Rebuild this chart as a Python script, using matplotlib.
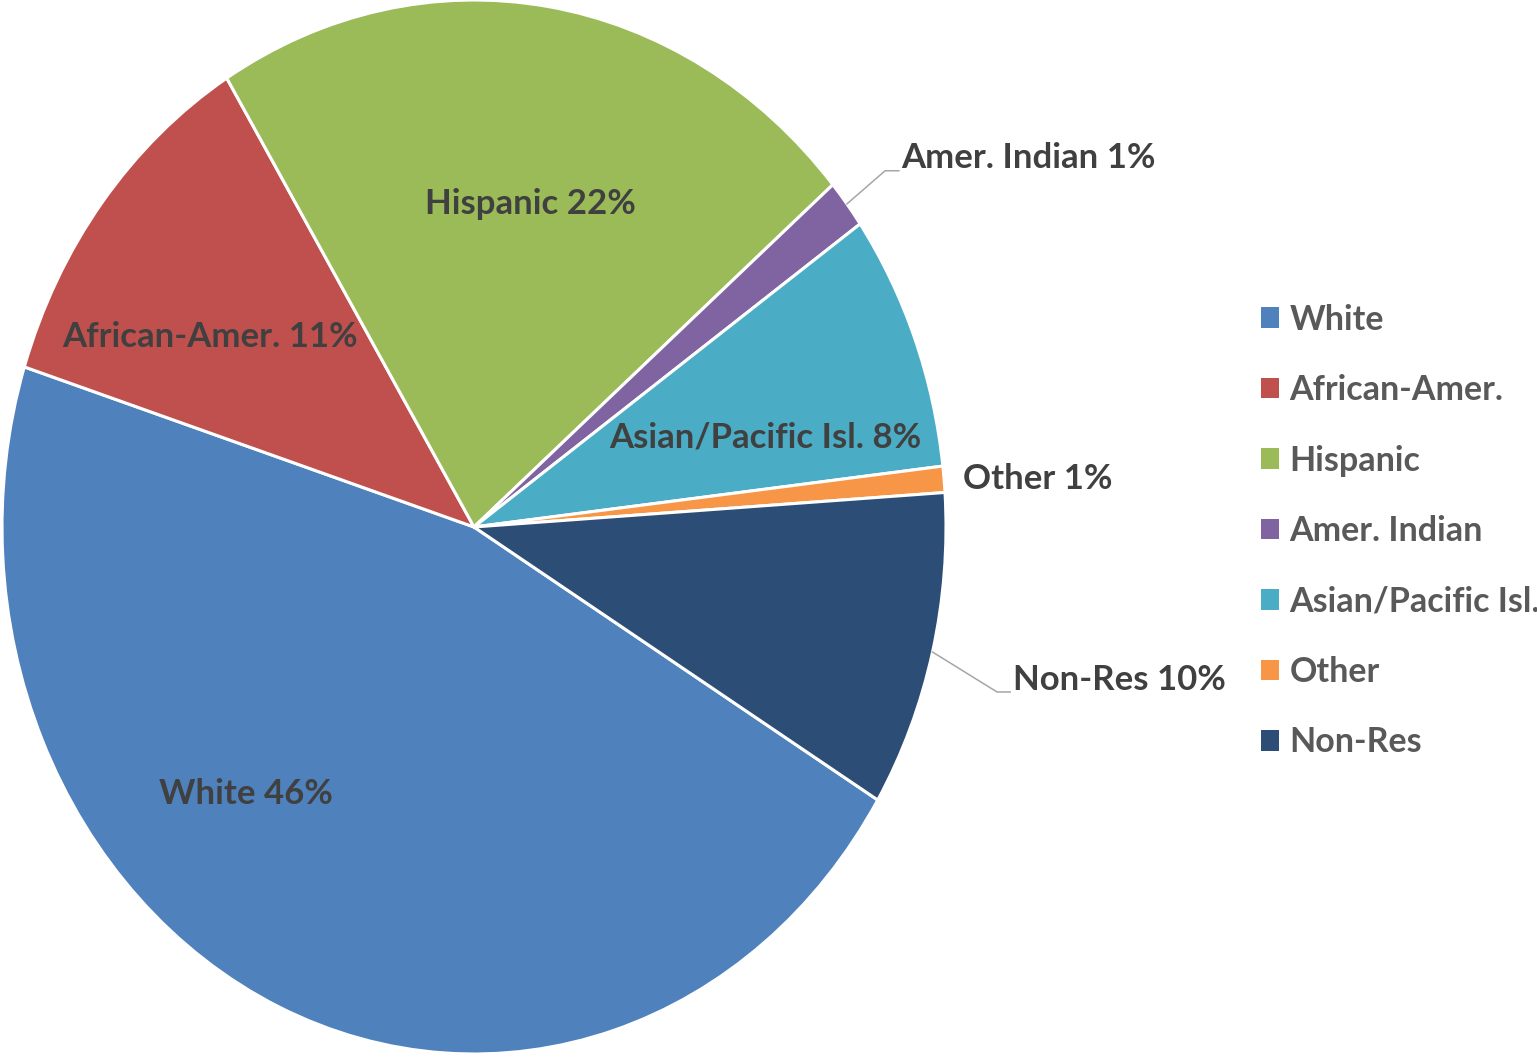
import numpy as np
import matplotlib
matplotlib.use("Agg")
import matplotlib.pyplot as plt
from matplotlib.patches import Patch

plt.rcParams['font.family'] = ['Lato', 'DejaVu Sans']

# data
groups = ['White', 'African-Amer.', 'Hispanic', 'Amer. Indian',
          'Asian/Pacific Isl.', 'Other', 'Non-Res']
shares = [46.2, 11.3, 22.5, 1.5, 7.9, 0.8, 9.7]
pct_text = ['46%', '11%', '22%', '1%', '8%', '1%', '10%']
colors = ['#4F81BD', '#C0504D', '#9BBB59', '#8064A2', '#4BACC6', '#F79646', '#2C4D75']

fig = plt.figure(figsize=(15.37, 10.57), dpi=100)
ax = fig.add_axes([2 / 1537, 3 / 1057, 944 / 1537, 1054 / 1057])

wedges, _ = ax.pie(shares, colors=colors, startangle=-31.2, counterclock=False,
                   wedgeprops=dict(edgecolor='white', linewidth=2.2))
ax.set_aspect('auto')
ax.set_xlim(-1, 1)
ax.set_ylim(-1, 1)

lab_color = '#404040'
fs = 25

# labels inside the slices
inside = {0: (-0.483, -0.507), 1: (-0.559, 0.361), 2: (0.119, 0.613), 4: (0.617, 0.169)}
for i, (x, y) in inside.items():
    ax.text(x, y, f"{groups[i]} {pct_text[i]}", ha='center', va='center',
            fontsize=fs, fontweight='bold', color=lab_color)

# labels outside
ax.text(1.036, 0.092, f"{groups[5]} {pct_text[5]}", ha='left', va='center',
        fontsize=fs, fontweight='bold', color=lab_color)


def leader(i, bend, end, label_y):
    w = wedges[i]
    mid = np.deg2rad((w.theta1 + w.theta2) / 2)
    ax.plot([np.cos(mid), bend[0], end[0]], [np.sin(mid), bend[1], end[1]],
            color='#A6A6A6', lw=1.1, clip_on=False)
    ax.text(end[0] + 0.005, label_y, f"{groups[i]} {pct_text[i]}", ha='left',
            va='center', fontsize=fs, fontweight='bold', color=lab_color)


leader(3, (0.871, 0.676), (0.900, 0.676), 0.700)
leader(6, (1.108, -0.313), (1.136, -0.313), -0.290)

handles = [Patch(facecolor=c, edgecolor='none') for c in colors]
fig.legend(handles, groups, loc='center left', bbox_to_anchor=(1230 / 1537, 1 - 531 / 1057),
           frameon=False, labelcolor='#595959',
           handlelength=0.55, handleheight=0.55, handletextpad=0.3,
           labelspacing=1.13, prop=dict(size=24.5, weight='bold'))

fig.savefig('out.png', dpi=100)
